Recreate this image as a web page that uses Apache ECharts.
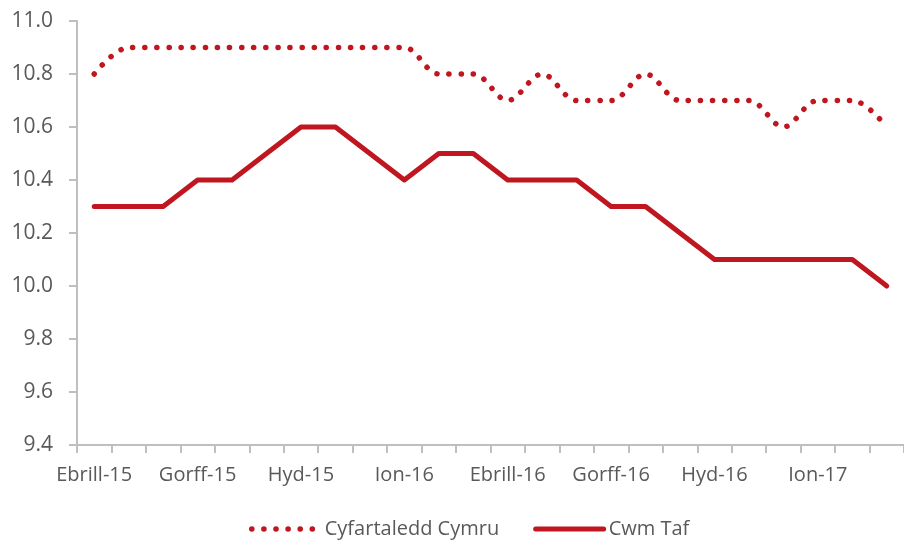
<!DOCTYPE html>
<html>
<head>
	<meta charset="utf-8">
	<title>Cyfartaledd Cymru / Cwm Taf</title>
	<script src="https://cdn.jsdelivr.net/npm/echarts@6/dist/echarts.min.js"></script>
	<style>
		html, body {
			margin: 0;
			padding: 0;
			background-color: #fff;
		}
		#chart {
			width: 904px;
			height: 542px;
		}
	</style>
</head>
<body>
	<div id="chart"></div>
<script>
	// misoedd, Ebrill 2015 - Mawrth 2017
	var months = ['Ebrill-15', 'Mai-15', 'Meh-15', 'Gorff-15', 'Awst-15', 'Medi-15',
		'Hyd-15', 'Tach-15', 'Rhag-15', 'Ion-16', 'Chwef-16', 'Maw-16',
		'Ebrill-16', 'Mai-16', 'Meh-16', 'Gorff-16', 'Awst-16', 'Medi-16',
		'Hyd-16', 'Tach-16', 'Rhag-16', 'Ion-17', 'Chwef-17', 'Maw-17'];
	var cymru = [10.8, 10.9, 10.9, 10.9, 10.9, 10.9, 10.9, 10.9, 10.9, 10.9, 10.8, 10.8,
		10.7, 10.8, 10.7, 10.7, 10.8, 10.7, 10.7, 10.7, 10.6, 10.7, 10.7, 10.6];
	var cwmTaf = [10.3, 10.3, 10.3, 10.4, 10.4, 10.5, 10.6, 10.6, 10.5, 10.4, 10.5, 10.5,
		10.4, 10.4, 10.4, 10.3, 10.3, 10.2, 10.1, 10.1, 10.1, 10.1, 10.1, 10.0];
	var yTicks = { min: 9.4, max: 11.0, step: 0.2 };

	var red = '#C0161F';
	var grey = '#BFBFBF';
	var textColor = '#595959';
	var font = '"Open Sans", "Liberation Sans", sans-serif';
	var dotted = { color: red, width: 5.5, type: [0.1, 12], cap: 'round' };
	var solid = { color: red, width: 5, cap: 'round', join: 'round' };

	var myChart = echarts.init(document.getElementById('chart'));
	var option = {
		animation: false,
		textStyle: { fontFamily: font },
		grid: {
			left: 77,
			right: 0,
			top: 21,
			bottom: 97
		},
		legend: {
			top: 514,
			left: 244,
			itemWidth: 68,
			itemHeight: 14,
			itemGap: 34,
			itemStyle: { opacity: 0 },
			textStyle: { fontSize: 20, color: textColor, fontFamily: font },
			data: [
				{ name: 'Cyfartaledd Cymru', lineStyle: dotted },
				{ name: 'Cwm Taf', lineStyle: solid }
			]
		},
		xAxis: {
			type: 'category',
			data: months,
			boundaryGap: true,
			axisLine: { lineStyle: { color: grey, width: 2 } },
			axisTick: { show: true, interval: 0, length: 8, lineStyle: { color: grey, width: 2 } },
			axisLabel: { interval: 2, margin: 20, fontSize: 20, color: textColor, fontFamily: font },
			splitLine: { show: false }
		},
		yAxis: {
			type: 'value',
			min: yTicks.min,
			max: yTicks.max,
			interval: yTicks.step,
			axisLine: { show: true, lineStyle: { color: grey, width: 2 } },
			axisTick: { show: true, length: 8, lineStyle: { color: grey, width: 2 } },
			axisLabel: {
				margin: 24, fontSize: 21, color: textColor, fontFamily: font,
				formatter: function (v) { return v.toFixed(1); }
			},
			splitLine: { show: false }
		},
		series: [
			{
				name: 'Cyfartaledd Cymru',
				type: 'line',
				data: cymru,
				smooth: 0.35,
				symbol: 'none',
				color: red,
				lineStyle: dotted
			},
			{
				name: 'Cwm Taf',
				type: 'line',
				data: cwmTaf,
				symbol: 'none',
				color: red,
				lineStyle: solid
			}
		]
	};
	myChart.setOption(option);
</script>
</body>
</html>
